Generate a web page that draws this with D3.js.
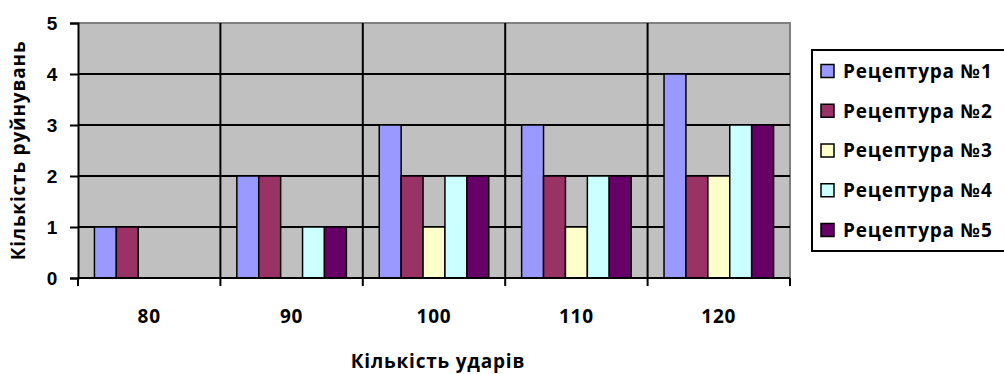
<!DOCTYPE html>
<html>
<head>
<meta charset="utf-8">
<script src="https://cdn.jsdelivr.net/npm/d3@7"></script>
<style>
  html, body { margin: 0; padding: 0; background: #fff; }
  svg { display: block; font-family: "Open Sans", "Noto Sans", sans-serif; font-weight: bold; }
  svg text { letter-spacing: 0.8px; }
</style>
</head>
<body>
<svg id="chart" width="1004" height="374"></svg>
<script>
// Number of impacts (categories)
const categories = ["80", "90", "100", "110", "120"];
// Series names
const seriesNames = ["Рецептура №1", "Рецептура №2", "Рецептура №3", "Рецептура №4", "Рецептура №5"];
// Number of failures per recipe, one array per series, aligned with categories
const recipe1 = [1, 2, 3, 3, 4];
const recipe2 = [1, 2, 2, 2, 2];
const recipe3 = [0, 0, 1, 1, 2];
const recipe4 = [0, 1, 2, 2, 3];
const recipe5 = [0, 1, 2, 2, 3];
const seriesValues = [recipe1, recipe2, recipe3, recipe4, recipe5];
const seriesColors = ["#9999FF", "#993366", "#FFFFCC", "#CCFFFF", "#660066"];
const yTicks = [0, 1, 2, 3, 4, 5];

const svg = d3.select("#chart");
const plot = { left: 78, right: 790, top: 23, bottom: 278 };
const fontSize = "19px";

const x0 = d3.scaleBand().domain(categories).range([plot.left, plot.right]).paddingInner(0).paddingOuter(0);
// 5 bars per group with a gap of 1.5 bar widths split around them
const x1 = d3.scaleBand().domain(d3.range(seriesNames.length))
  .range([0, x0.bandwidth()]).paddingInner(0).paddingOuter(0.75);
const y = d3.scaleLinear().domain([0, 5]).range([plot.bottom, plot.top]);

// plot area
svg.append("rect")
  .attr("x", plot.left).attr("y", plot.top)
  .attr("width", plot.right - plot.left).attr("height", plot.bottom - plot.top)
  .attr("fill", "#C0C0C0");

// border on top and right
svg.append("path")
  .attr("d", `M${plot.left},${plot.top}H${plot.right}V${plot.bottom}`)
  .attr("fill", "none").attr("stroke", "#808080").attr("stroke-width", 2);

// horizontal gridlines
svg.append("g").selectAll("line")
  .data(yTicks.filter(t => t > 0 && t < 5))
  .join("line")
  .attr("x1", plot.left).attr("x2", plot.right)
  .attr("y1", d => y(d)).attr("y2", d => y(d))
  .attr("stroke", "#000").attr("stroke-width", 2);

// vertical category separators
svg.append("g").selectAll("line")
  .data(categories.slice(1))
  .join("line")
  .attr("x1", d => x0(d)).attr("x2", d => x0(d))
  .attr("y1", plot.top).attr("y2", plot.bottom)
  .attr("stroke", "#000").attr("stroke-width", 2);

// bars
const groups = svg.append("g").selectAll("g")
  .data(categories)
  .join("g")
  .attr("transform", d => `translate(${x0(d)},0)`);

groups.selectAll("rect")
  .data((c, ci) => seriesValues.map((vals, si) => ({ si, v: vals[ci] })).filter(d => d.v > 0))
  .join("rect")
  .attr("x", d => x1(d.si))
  .attr("width", x1.bandwidth())
  .attr("y", d => y(d.v))
  .attr("height", d => y(0) - y(d.v))
  .attr("fill", d => seriesColors[d.si])
  .attr("stroke", "#000").attr("stroke-width", 1.5);

// y axis
const yAxis = svg.append("g")
  .attr("transform", `translate(${plot.left},0)`)
  .call(d3.axisLeft(y).tickValues(yTicks).tickFormat(d3.format("d")).tickSize(8).tickPadding(12));
yAxis.select(".domain").attr("stroke", "#000").attr("stroke-width", 2);
yAxis.selectAll(".tick line").attr("stroke", "#000").attr("stroke-width", 2);
yAxis.selectAll(".tick text")
  .attr("fill", "#000").style("font-size", fontSize).style("font-weight", "bold")
  .style("font-family", null);

// x axis: ticks on category boundaries, labels centred in categories
const xAxisG = svg.append("g").attr("transform", `translate(0,${plot.bottom})`);
xAxisG.append("line")
  .attr("x1", plot.left).attr("x2", plot.right)
  .attr("stroke", "#000").attr("stroke-width", 2);
const boundaries = categories.map(c => x0(c)).concat([x0(categories[categories.length - 1]) + x0.bandwidth()]);
xAxisG.selectAll("line.tick")
  .data(boundaries)
  .join("line").attr("class", "tick")
  .attr("x1", d => d).attr("x2", d => d)
  .attr("y1", 0).attr("y2", 8)
  .attr("stroke", "#000").attr("stroke-width", 2);
xAxisG.selectAll("text")
  .data(categories)
  .join("text")
  .attr("x", d => x0(d) + x0.bandwidth() / 2)
  .attr("y", 45)
  .attr("text-anchor", "middle")
  .style("font-size", fontSize)
  .text(d => d);

// axis titles
svg.append("text")
  .attr("x", 438)
  .attr("y", 368)
  .attr("text-anchor", "middle")
  .style("font-size", fontSize)
  .text("Кількість ударів");

svg.append("text")
  .attr("transform", `translate(25,${(plot.top + plot.bottom) / 2}) rotate(-90)`)
  .attr("text-anchor", "middle")
  .style("font-size", fontSize)
  .text("Кількість руйнувань");

// legend
const legend = svg.append("g");
legend.append("rect")
  .attr("x", 812).attr("y", 50).attr("width", 210).attr("height", 201)
  .attr("fill", "#fff").attr("stroke", "#000").attr("stroke-width", 2);
const rowY = d3.scalePoint().domain(d3.range(seriesNames.length)).range([71, 230]);
const items = legend.selectAll("g.item")
  .data(seriesNames)
  .join("g").attr("class", "item")
  .attr("transform", (d, i) => `translate(0,${rowY(i)})`);
items.append("rect")
  .attr("x", 821).attr("y", -6.5).attr("width", 13).attr("height", 13)
  .attr("fill", (d, i) => seriesColors[i])
  .attr("stroke", "#000").attr("stroke-width", 1.5);
items.append("text")
  .attr("x", 843).attr("y", 0).attr("dy", "0.36em")
  .style("font-size", fontSize)
  .text(d => d);
</script>
</body>
</html>
